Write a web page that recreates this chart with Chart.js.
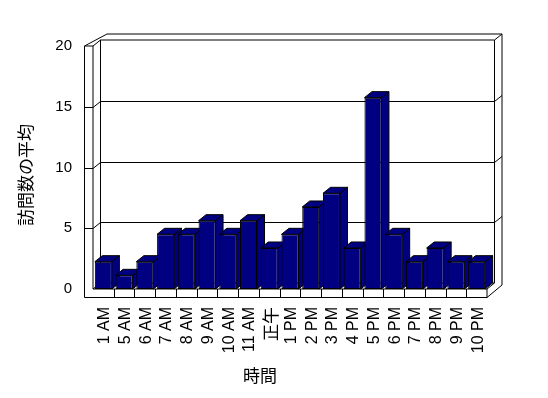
<!DOCTYPE html>
<html>
<head>
<meta charset="utf-8">
<script src="https://cdn.jsdelivr.net/npm/chart.js@4/dist/chart.umd.min.js"></script>
<style>
  html, body { margin: 0; padding: 0; background: #ffffff; }
  #wrap { width: 548px; height: 398px; position: relative; }
</style>
</head>
<body>
<div id="wrap"><canvas id="c" width="548" height="398"></canvas></div>
<script>
// ---- data ----
const categories = ["1 AM","5 AM","6 AM","7 AM","8 AM","9 AM","10 AM","11 AM","正午","1 PM","2 PM","3 PM","4 PM","5 PM","6 PM","7 PM","8 PM","9 PM","10 PM"];
const visitAverages = [2.25,1.125,2.25,4.5,4.5,5.625,4.5,5.625,3.375,4.5,6.75,7.875,3.375,15.75,4.5,2.25,3.375,2.25,2.25];
const yTicks = [0,5,10,15,20];
const xTitle = "時間";
const yTitle = "訪問数の平均";

const BAR = "#000080";
const DX = 7.5, DY = 6;
const LATIN = "15px 'Liberation Sans', Arial, sans-serif";
const LATIN_X = "16px 'Liberation Sans', Arial, sans-serif";
const CJK = "17px 'Noto Sans CJK JP', sans-serif";

function line(ctx, x1, y1, x2, y2) {
  ctx.beginPath(); ctx.moveTo(x1, y1); ctx.lineTo(x2, y2); ctx.stroke();
}

const frame3d = {
  id: 'frame3d',
  beforeDatasetsDraw(chart) {
    const ctx = chart.ctx, a = chart.chartArea, ys = chart.scales.y;
    const L = a.left, R = a.right, B = a.bottom, T = ys.getPixelForValue(20);
    const SL = L - 8.5;           // left wall slab outer
    const FB = B + 8.5;           // floor front bottom
    ctx.save();
    ctx.strokeStyle = "#000"; ctx.lineWidth = 1;
    // back wall edges
    line(ctx, L + DX, T - DY, R + DX, T - DY);
    line(ctx, L + DX, T - DY, L + DX, B - DY);
    line(ctx, R + DX, T - DY, R + DX, B - DY);
    line(ctx, L + DX, B - DY, R + DX, B - DY);
    // outer thickness
    line(ctx, SL, T, L + 2 * DX - 1, T - 2 * DY);
    line(ctx, L + 2 * DX - 1, T - 2 * DY, R + 2 * DX, T - 2 * DY);
    line(ctx, R + 2 * DX, T - 2 * DY, R + 2 * DX, B - 2 * DY + 8);
    line(ctx, R + 2 * DX, B - 2 * DY + 8, R, FB);
    line(ctx, R + DX, T - DY, R + 2 * DX, T - 2 * DY);
    line(ctx, R + DX, B - DY, R, B);
    // left wall slab
    line(ctx, SL, T, SL, FB);
    line(ctx, SL, T, L, T);
    line(ctx, L, T, L, B);
    line(ctx, L, T, L + DX, T - DY);
    line(ctx, L, B, L + DX, B - DY);
    // gridlines
    yTicks.forEach(v => {
      if (v === 0 || v === 20) return;
      const y = Math.round(ys.getPixelForValue(v)) + 0.5;
      line(ctx, SL, y, L, y);
      line(ctx, L, y, L + DX, y - DY);
      line(ctx, L + DX, y - DY, R + DX, y - DY);
      line(ctx, R + DX, y - DY, R + 2 * DX, y - 2 * DY);
    });
    // floor front face
    line(ctx, L, B, R, B);
    line(ctx, SL, FB, R, FB);
    line(ctx, R, B, R, FB);
    const n = categories.length, w = (R - L) / n;
    for (let i = 1; i < n; i++) {
      const x = Math.round(L + i * w) + 0.5;
      line(ctx, x, B, x, FB);
    }
    // bar sides and tops
    const meta = chart.getDatasetMeta(0);
    meta.data.forEach(el => {
      const p = el.getProps(['x', 'y', 'base', 'width'], true);
      const l = p.x - p.width / 2, r = p.x + p.width / 2, t = p.y, b = p.base;
      ctx.fillStyle = BAR;
      ctx.beginPath();
      ctx.moveTo(r, t); ctx.lineTo(r + DX, t - DY); ctx.lineTo(r + DX, b - DY); ctx.lineTo(r, b); ctx.closePath();
      ctx.fill(); ctx.stroke();
      ctx.beginPath();
      ctx.moveTo(l, t); ctx.lineTo(l + DX, t - DY); ctx.lineTo(r + DX, t - DY); ctx.lineTo(r, t); ctx.closePath();
      ctx.fill(); ctx.stroke();
    });
    ctx.restore();
  },
  afterDraw(chart) {
    const ctx = chart.ctx, a = chart.chartArea, ys = chart.scales.y, xs = chart.scales.x;
    ctx.save();
    ctx.fillStyle = "#000";
    // y tick labels
    ctx.font = LATIN; ctx.textAlign = "right"; ctx.textBaseline = "middle";
    yTicks.forEach(v => ctx.fillText(String(v), a.left - 21, ys.getPixelForValue(v)));
    // x tick labels (rotated)
    categories.forEach((c, i) => {
      const x = xs.getPixelForValue(i);
      ctx.save();
      ctx.translate(x + 1.5, a.bottom + 18);
      ctx.rotate(-Math.PI / 2);
      ctx.textAlign = "right"; ctx.textBaseline = "middle";
      ctx.font = /[^\x00-\x7f]/.test(c) ? CJK : LATIN_X;
      ctx.fillText(c, 0, 0);
      ctx.restore();
    });
    // titles
    ctx.font = CJK; ctx.textAlign = "center"; ctx.textBaseline = "middle";
    ctx.fillText(xTitle, 260, 376);
    ctx.save();
    ctx.translate(26, 175);
    ctx.rotate(-Math.PI / 2);
    ctx.fillText(yTitle, 0, 0);
    ctx.restore();
    ctx.restore();
  }
};

new Chart(document.getElementById('c'), {
  type: 'bar',
  data: {
    labels: categories,
    datasets: [{
      data: visitAverages,
      backgroundColor: BAR,
      borderColor: "#000",
      borderWidth: 1,
      borderSkipped: false,
      categoryPercentage: 1,
      barPercentage: 0.82
    }]
  },
  options: {
    responsive: false,
    animation: false,
    devicePixelRatio: 1,
    layout: { padding: { left: 93, right: 61, top: 46, bottom: 109 } },
    plugins: { legend: { display: false }, tooltip: { enabled: false }, title: { display: false } },
    scales: {
      x: { display: false, offset: true, grid: { display: false } },
      y: { display: false, min: 0, max: 20 }
    }
  },
  plugins: [frame3d]
});
</script>
</body>
</html>
